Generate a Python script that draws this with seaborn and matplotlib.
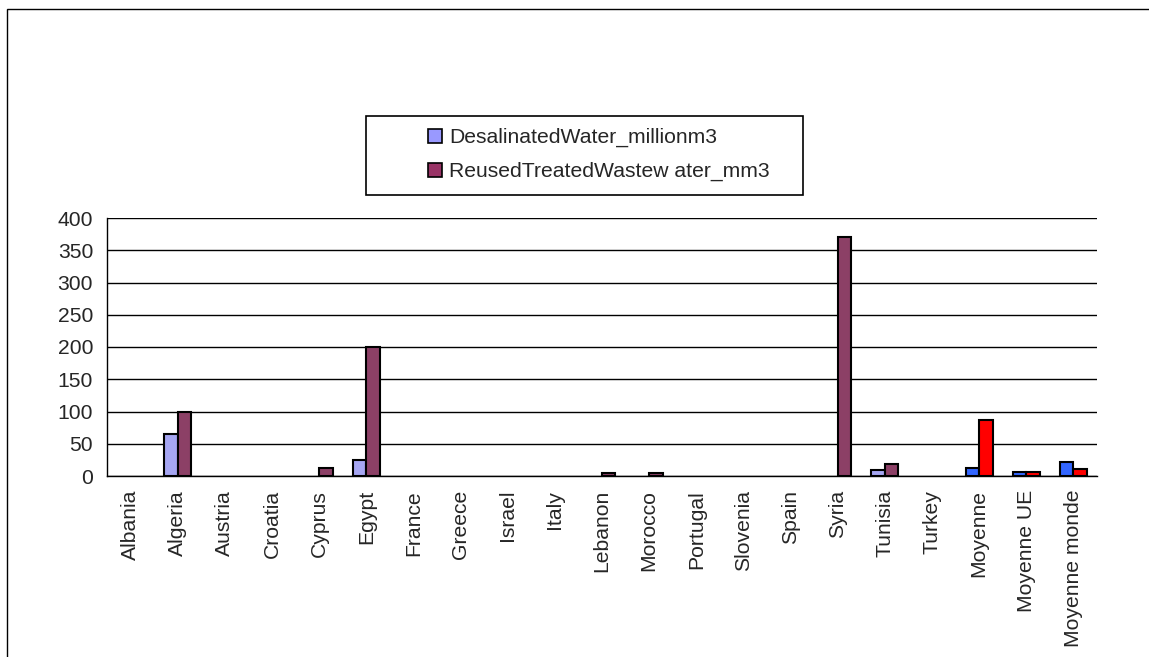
import matplotlib
matplotlib.use("Agg")
import matplotlib.pyplot as plt
from matplotlib.patches import Rectangle, Patch
import numpy as np
import pandas as pd
import seaborn as sns

countries = ["Albania", "Algeria", "Austria", "Croatia", "Cyprus", "Egypt", "France",
             "Greece", "Israel", "Italy", "Lebanon", "Morocco", "Portugal", "Slovenia",
             "Spain", "Syria", "Tunisia", "Turkey", "Moyenne", "Moyenne UE", "Moyenne monde"]
series = ["DesalinatedWater_millionm3", "ReusedTreatedWastew ater_mm3"]
desalinated = [0, 65, 0, 0, 0, 25, 0, 0, 0, 0, 0, 0, 0, 0, 0, 0, 9, 0, 12, 6, 22]
reused = [0, 100, 0, 0, 12, 200, 0, 0, 0, 0, 4, 4, 0, 0, 0, 370, 19, 0, 87, 6, 11]
average_rows = ["Moyenne", "Moyenne UE", "Moyenne monde"]

series_colors = ["#9999FF", "#993366"]
average_colors = ["#3366FF", "#FF0000"]

df = pd.DataFrame({
    "country": countries * 2,
    "series": [series[0]] * len(countries) + [series[1]] * len(countries),
    "value": desalinated + reused,
})
df = df[df["value"] > 0]

sns.set_style("white")
plt.rcParams["font.family"] = ["Liberation Sans", "DejaVu Sans"]
plt.rcParams["font.size"] = 15.2

W, H = 1149, 657
fig = plt.figure(figsize=(W / 100, H / 100), dpi=100)
ax = fig.add_axes([107 / W, 1 - 476 / H, 990 / W, 258 / H])

sns.barplot(data=df, x="country", y="value", hue="series", order=countries,
            hue_order=series, palette=series_colors, width=2 / 3.5,
            edgecolor="black", linewidth=1.5, ax=ax, legend=False)

# averages get their own colours
avg_idx = [countries.index(c) for c in average_rows]
for p in ax.patches:
    cx = p.get_x() + p.get_width() / 2
    k = int(round(cx))
    if k in avg_idx:
        p.set_facecolor(average_colors[0] if cx < k else average_colors[1])

ax.set_xlim(-0.5, len(countries) - 0.5)
ax.set_ylim(0, 400)
ax.set_yticks(np.arange(0, 401, 50))
ax.set_xlabel("")
ax.set_ylabel("")
ax.yaxis.grid(True, color="black", linewidth=1)
ax.set_axisbelow(True)

ax.set_xticks(range(len(countries)))
ax.set_xticklabels(countries, rotation=90)
ax.set_xticks(np.arange(-0.5, len(countries), 1), minor=True)
ax.tick_params(axis="x", which="major", length=0, pad=10)
ax.tick_params(axis="x", which="minor", length=5, width=1, color="black", direction="out")
ax.tick_params(axis="y", length=6, width=1, color="black", direction="out", pad=4)

for s in ["top", "right"]:
    ax.spines[s].set_visible(False)
for s in ["left", "bottom"]:
    ax.spines[s].set_color("black")
    ax.spines[s].set_linewidth(1)

# legend box
fig.add_artist(Rectangle((366 / W, 1 - 195 / H), 437 / W, 79 / H, transform=fig.transFigure,
                         fill=False, edgecolor="black", linewidth=1.2))
handles = [Patch(facecolor=c, edgecolor="black", linewidth=1.2) for c in series_colors]
fig.legend(handles, series, loc="upper left", bbox_to_anchor=(428 / W, 1 - 128 / H),
           frameon=False, borderaxespad=0, borderpad=0, handlelength=0.65,
           handleheight=0.65, handletextpad=0.35, labelspacing=0.7)

# outer chart border
fig.add_artist(Rectangle((7 / W, -0.1), 1.2, 1.1 - 9 / H, transform=fig.transFigure,
                         fill=False, edgecolor="black", linewidth=1))

fig.savefig("out.png", dpi=100)
